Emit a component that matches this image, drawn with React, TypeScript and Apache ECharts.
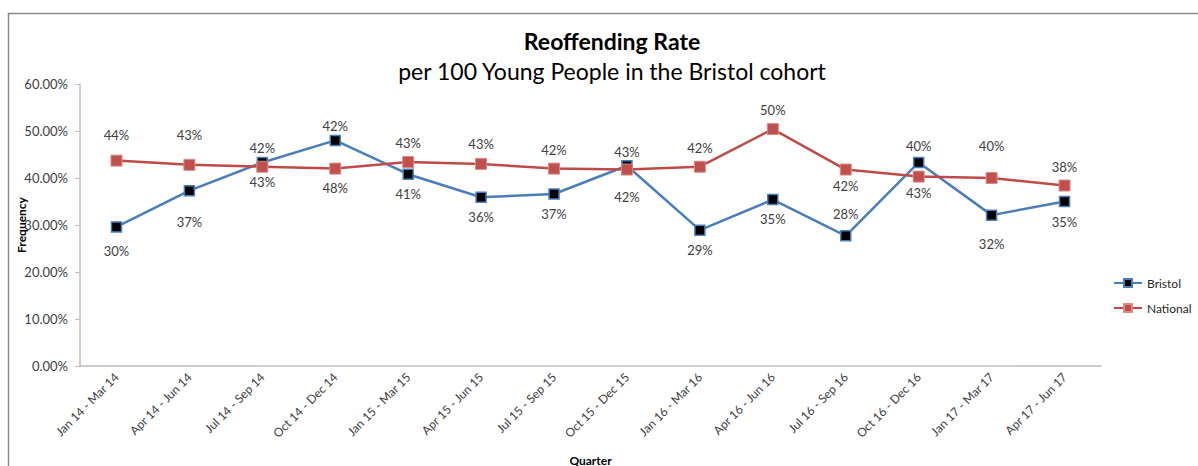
import React, { useEffect, useRef } from "react";
import * as echarts from "echarts";

const categories = [
  "Jan 14 - Mar 14", "Apr 14 - Jun 14", "Jul 14 - Sep 14", "Oct 14 - Dec 14",
  "Jan 15 - Mar 15", "Apr 15 - Jun 15", "Jul 15 - Sep 15", "Oct 15 - Dec 15",
  "Jan 16 - Mar 16", "Apr 16 - Jun 16", "Jul 16 - Sep 16", "Oct 16 - Dec 16",
  "Jan 17 - Mar 17", "Apr 17 - Jun 17",
];
const bristol = [29.6, 37.3, 43.3, 48.0, 40.8, 35.9, 36.6, 42.6, 28.9, 35.4, 27.7, 43.3, 32.1, 35.0];
const national = [43.7, 42.8, 42.4, 42.0, 43.4, 43.0, 42.0, 41.8, 42.4, 50.4, 41.8, 40.3, 40.0, 38.4];
const yTicks = [0, 10, 20, 30, 40, 50, 60];

// label vertical offsets (layout only), relative to each point
const bristolLabelDy = [24, 31, 20, 48, 20, 20, 20, -14, 20, 19, -22, 31, 29, 20];
const nationalLabelDy = [-26, -30, -19, -43, -19, -20, -19, 27, -19, -19, 16, -31, -32, -19];

const FONT = "Lato, 'Liberation Sans', sans-serif";

export default function App() {
  const ref = useRef<HTMLDivElement>(null);
  useEffect(() => {
    if (!ref.current) return;
    const chart = echarts.init(ref.current, undefined, { renderer: "svg" });
    const mk = (vals: number[], dys: number[]) =>
      vals.map((v, i) => ({ value: v, label: { offset: [0, dys[i]] } }));
    chart.setOption({
      animation: false,
      textStyle: { fontFamily: FONT },
      title: [
        {
          text: "Reoffending Rate",
          left: 607,
          top: 24,
          textAlign: "center",
          textStyle: { fontFamily: FONT, fontSize: 23, fontWeight: "bold", color: "#000" },
        },
        {
          text: "per 100 Young People in the Bristol cohort",
          left: 607,
          top: 54,
          textAlign: "center",
          textStyle: { fontFamily: FONT, fontSize: 23, fontWeight: "normal", color: "#000" },
        },
      ],
      graphic: [
        { type: "line", shape: { x1: 8, y1: 13.5, x2: 1198, y2: 13.5 }, style: { stroke: "#8a8a8a", lineWidth: 1.5 } },
        { type: "line", shape: { x1: 8.5, y1: 13, x2: 8.5, y2: 466 }, style: { stroke: "#8a8a8a", lineWidth: 1.5 } },
      ],
      legend: {
        orient: "vertical",
        left: 1108,
        top: 272,
        itemWidth: 28,
        itemHeight: 10,
        itemGap: 13,
        textStyle: { fontFamily: FONT, fontSize: 12, color: "#262626" },
        data: ["Bristol", "National"],
      },
      grid: { left: 80, right: 97, top: 84, bottom: 100, containLabel: false, outerBoundsMode: "none" },
      xAxis: {
        type: "category",
        data: categories,
        boundaryGap: true,
        name: "Quarter",
        nameLocation: "middle",
        nameGap: 88,
        nameMoveOverlap: false,
        nameTextStyle: { fontFamily: FONT, fontSize: 12, fontWeight: "bold", color: "#000" },
        axisLine: { lineStyle: { color: "#bfbfbf", width: 1.5 } },
        axisTick: { show: false },
        axisLabel: {
          rotate: 45,
          interval: 0,
          margin: 9,
          fontFamily: FONT,
          fontSize: 12,
          color: "#404040",
        },
      },
      yAxis: {
        type: "value",
        min: yTicks[0],
        max: yTicks[yTicks.length - 1],
        interval: 10,
        name: "Frequency",
        nameLocation: "middle",
        nameGap: 53,
        nameRotate: 90,
        nameMoveOverlap: false,
        nameTextStyle: { fontFamily: FONT, fontSize: 12, fontWeight: "bold", color: "#000" },
        axisLine: { show: true, lineStyle: { color: "#bfbfbf", width: 1.5 } },
        axisTick: { show: true, length: 5, lineStyle: { color: "#bfbfbf" } },
        splitLine: { show: false },
        axisLabel: {
          margin: 12,
          fontFamily: FONT,
          fontSize: 13,
          color: "#404040",
          formatter: (v: number) => v.toFixed(2) + "%",
        },
      },
      series: [
        {
          name: "Bristol",
          type: "line",
          data: mk(bristol, bristolLabelDy),
          symbol: "rect",
          symbolSize: 10,
          lineStyle: { color: "#4a7ebb", width: 2.5 },
          itemStyle: { color: "#000", borderColor: "#4a7ebb", borderWidth: 1.5 },
          label: {
            show: true,
            position: "inside",
            fontFamily: FONT,
            fontSize: 13,
            color: "#404040",
            formatter: (p: any) => Math.round(p.value) + "%",
          },
        },
        {
          name: "National",
          type: "line",
          data: mk(national, nationalLabelDy),
          symbol: "rect",
          symbolSize: 11,
          lineStyle: { color: "#be4b48", width: 2.5 },
          itemStyle: { color: "#c0504d", borderColor: "#d98a88", borderWidth: 1 },
          label: {
            show: true,
            position: "inside",
            fontFamily: FONT,
            fontSize: 13,
            color: "#404040",
            formatter: (p: any) => Math.round(p.value) + "%",
          },
        },
      ],
    });
    return () => chart.dispose();
  }, []);
  return (
    <div
      ref={ref}
      style={{ position: "absolute", left: 0, top: 0, width: 1198, height: 466, background: "#fff" }}
    />
  );
}
